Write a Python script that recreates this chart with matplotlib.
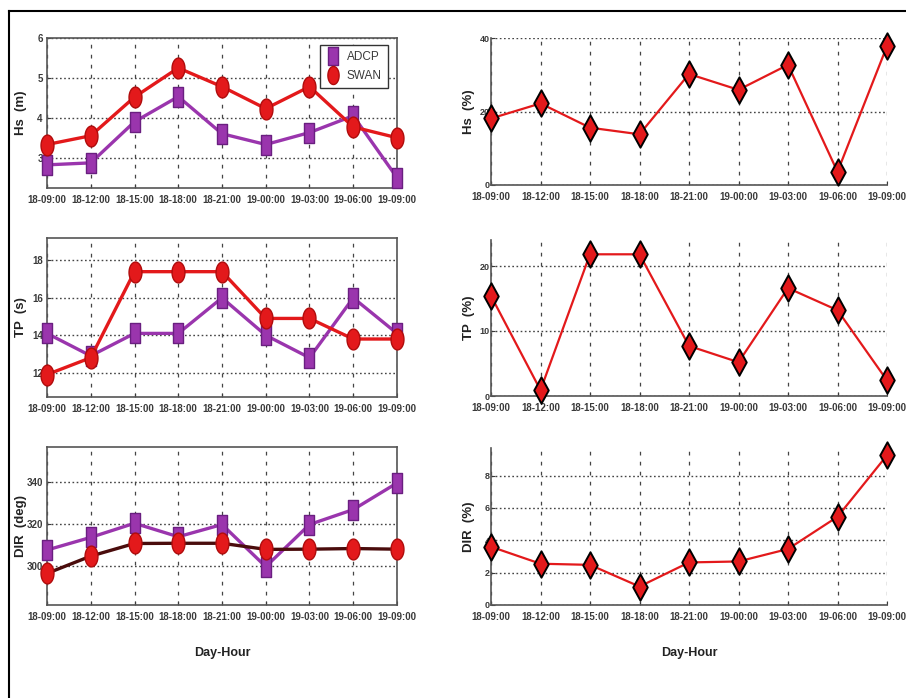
import matplotlib
matplotlib.use("Agg")
import matplotlib.pyplot as plt
from matplotlib.path import Path
from matplotlib.lines import Line2D
import numpy as np

plt.rcParams['font.family'] = ['Liberation Sans Narrow', 'Liberation Sans', 'DejaVu Sans']

# ---- data ----
hours = ["18-09:00", "18-12:00", "18-15:00", "18-18:00", "18-21:00",
         "19-00:00", "19-03:00", "19-06:00", "19-09:00"]

hs_adcp = [2.82, 2.87, 3.90, 4.53, 3.60, 3.33, 3.63, 4.05, 2.50]
hs_swan = [3.33, 3.55, 4.52, 5.25, 4.78, 4.23, 4.78, 3.77, 3.50]
tp_adcp = [14.1, 12.9, 14.1, 14.1, 16.0, 14.0, 12.8, 16.0, 14.1]
tp_swan = [11.9, 12.8, 17.4, 17.4, 17.4, 14.9, 14.9, 13.8, 13.8]
dir_adcp = [307.6, 313.6, 320.3, 313.9, 319.7, 299.7, 319.7, 326.8, 339.4]
dir_swan = [296.5, 304.7, 310.7, 310.8, 310.8, 307.9, 308.0, 308.3, 308.0]

hs_err = [18.1, 22.2, 15.6, 13.8, 30.2, 25.9, 32.7, 3.6, 37.8]
tp_err = [15.4, 0.9, 21.8, 21.8, 7.7, 5.2, 16.6, 13.2, 2.4]
dir_err = [3.6, 2.55, 2.48, 1.14, 2.63, 2.69, 3.46, 5.45, 9.25]

x = np.arange(len(hours))

# ---- stretched marker shapes ----
def rect_marker(w=0.5):
    return Path([(-w, -1), (w, -1), (w, 1), (-w, 1), (-w, -1)],
                [Path.MOVETO, Path.LINETO, Path.LINETO, Path.LINETO, Path.CLOSEPOLY])

def ellipse_marker(w=0.62):
    t = np.linspace(0, 2 * np.pi, 60)
    v = np.column_stack([w * np.sin(t), np.cos(t)])
    return Path(v, closed=True)

def diamond_marker(w=0.55):
    return Path([(0, -1), (w, 0), (0, 1), (-w, 0), (0, -1)],
                [Path.MOVETO, Path.LINETO, Path.LINETO, Path.LINETO, Path.CLOSEPOLY])

SQ = rect_marker()
EL = ellipse_marker()
DM = diamond_marker()

PURPLE = '#9a35ad'
PURPLE_DK = '#6a1f80'
RED = '#e3191b'
RED_DK = '#b00c0c'
GRID = '#444444'
TXT = '#3a3a3a'

fig = plt.figure(figsize=(9.06, 6.98), dpi=100)

def fpos(x0, y0, x1, y1):
    W, H = 906.0, 698.0
    return [x0 / W, 1 - y1 / H, (x1 - x0) / W, (y1 - y0) / H]

def style(ax, boxed):
    ax.set_xlim(0, 8)
    ax.set_xticks(x)
    ax.set_xticklabels(hours)
    ax.grid(False)
    ax.tick_params(axis='both', direction='in', length=3, colors=TXT,
                   labelsize=7, pad=5)
    ax.tick_params(axis='y', pad=3)
    for lab in ax.get_xticklabels() + ax.get_yticklabels():
        lab.set_fontweight('bold')
    for s in ax.spines.values():
        s.set_color('#555555')
        s.set_linewidth(1.2)
    if not boxed:
        ax.spines['top'].set_visible(False)
        ax.spines['right'].set_visible(False)

def add_grid(ax, yticks):
    for xv in x:
        ax.axvline(xv, color=GRID, ls=(0, (3, 5)), lw=0.9, zorder=0)
    for yv in yticks:
        ax.axhline(yv, color=GRID, ls=(0, (1.2, 1.8)), lw=1.0, zorder=0)

def ylab(ax, text, xc):
    ax.set_ylabel(text, fontsize=9.5, fontweight='bold', color='#222222',
                  family=['Liberation Sans', 'DejaVu Sans'])
    ax.yaxis.set_label_coords(xc, 0.5)

# ---- left column: ADCP vs SWAN ----
left_specs = [
    (fpos(47, 38, 397, 188), hs_adcp, hs_swan, (2.24, 6.0), [3, 4, 5, 6], "Hs  (m)", RED),
    (fpos(47, 238, 397, 397), tp_adcp, tp_swan, (10.7, 19.2), [12, 14, 16, 18], "TP  (s)", RED),
    (fpos(47, 447, 397, 605), dir_adcp, dir_swan, (281.5, 356.5), [300, 320, 340], "DIR  (deg)", '#4a0c0c'),
]
left_axes = []
for pos, a, s, yl, yt, lab, swan_line in left_specs:
    ax = fig.add_axes(pos)
    ax.set_ylim(*yl)
    ax.set_yticks(yt)
    add_grid(ax, yt)
    ax.plot(x, a, color=PURPLE, lw=2.4, marker=SQ, ms=15, mfc=PURPLE,
            mec=PURPLE_DK, mew=1.0, clip_on=False, zorder=3)
    ax.plot(x, s, color=swan_line, lw=2.4, marker=EL, ms=15, mfc=RED,
            mec=RED_DK, mew=1.0, clip_on=False, zorder=4)
    style(ax, True)
    ylab(ax, lab, -0.058)
    left_axes.append(ax)

handles = [Line2D([], [], ls='none', marker=SQ, ms=13, mfc=PURPLE, mec=PURPLE_DK),
           Line2D([], [], ls='none', marker=EL, ms=13, mfc=RED, mec=RED_DK)]
leg = left_axes[0].legend(handles, ["ADCP", "SWAN"], loc='upper right',
                          bbox_to_anchor=(0.99, 0.99), fancybox=False,
                          edgecolor='#333333', framealpha=1, fontsize=8.5,
                          handlelength=1.2, handletextpad=0.6, borderpad=0.5,
                          labelspacing=0.6)
leg.get_frame().set_linewidth(1.0)
for t in leg.get_texts():
    t.set_color(TXT)

# ---- right column: relative error ----
right_specs = [
    (fpos(491, 38, 887, 185), hs_err, (0, 40), [0, 20, 40], "Hs  (%)"),
    (fpos(491, 240, 887, 396), tp_err, (0, 24), [0, 10, 20], "TP  (%)"),
    (fpos(491, 448, 887, 605), dir_err, (0, 9.7), [0, 2, 4, 6, 8], "DIR  (%)"),
]
right_axes = []
for pos, e, yl, yt, lab in right_specs:
    ax = fig.add_axes(pos)
    ax.set_ylim(*yl)
    ax.set_yticks(yt)
    add_grid(ax, yt)
    ax.plot(x, e, color=RED, lw=1.6, marker=DM, ms=19, mfc=RED,
            mec='black', mew=1.4, clip_on=False, zorder=3)
    style(ax, False)
    ax.tick_params(axis='y', labelsize=6.5, pad=1)
    ylab(ax, lab, -0.04)
    right_axes.append(ax)

for ax in (left_axes[-1], right_axes[-1]):
    ax.set_xlabel("Day-Hour", fontsize=9, fontweight='bold', color='#222222',
                  labelpad=18)

# outer frame lines
fig.add_artist(Line2D([9 / 906, 9 / 906], [0, 1 - 11 / 698], color='black', lw=1.5))
fig.add_artist(Line2D([9 / 906, 1], [1 - 11 / 698, 1 - 11 / 698], color='black', lw=1.5))

fig.savefig("out.png", dpi=100, facecolor='white')
